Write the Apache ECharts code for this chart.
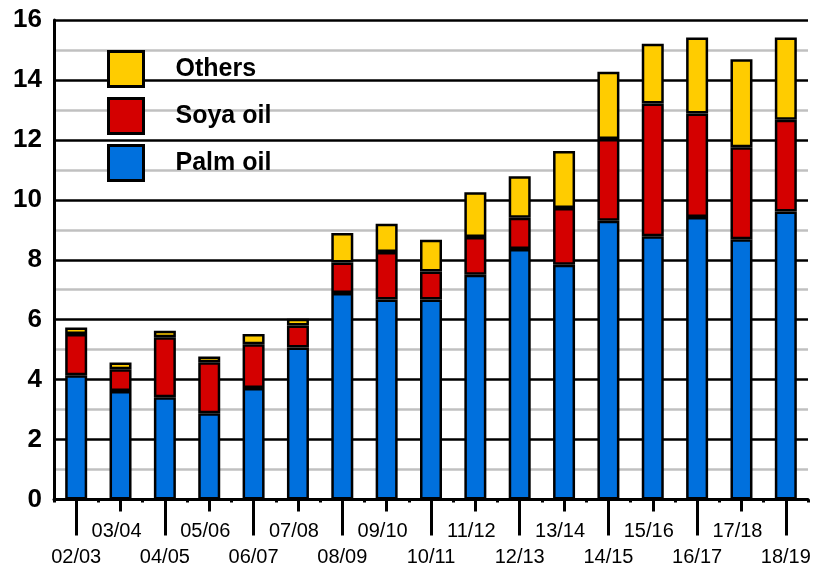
<!DOCTYPE html>
<html>
<head>
<meta charset="utf-8">
<script src="https://cdn.jsdelivr.net/npm/echarts@6/dist/echarts.min.js"></script>
<style>
  html, body { margin: 0; padding: 0; background: #fff; }
  #chart { width: 815px; height: 568px; }
</style>
</head>
<body>
<div id="chart"></div>
<script>
  const seasons = ['02/03', '03/04', '04/05', '05/06', '06/07', '07/08', '08/09', '09/10', '10/11',
    '11/12', '12/13', '13/14', '14/15', '15/16', '16/17', '17/18', '18/19'];
  const palmOil = [4.15, 3.62, 3.41, 2.88, 3.72, 5.07, 6.89, 6.67, 6.67, 7.5, 8.36, 7.83, 9.3, 8.78, 9.43, 8.68, 9.61];
  const soyaOil = [1.37, 0.73, 2.0, 1.7, 1.46, 0.74, 1.02, 1.59, 0.94, 1.26, 1.04, 1.9, 2.73, 4.43, 3.45, 3.07, 3.06];
  const others = [0.22, 0.22, 0.22, 0.19, 0.34, 0.22, 0.98, 0.94, 1.06, 1.49, 1.39, 1.9, 2.24, 2.0, 2.54, 2.94, 2.75];
  const yTicks = [0, 2, 4, 6, 8, 10, 12, 14, 16];

  const chart = echarts.init(document.getElementById('chart'));
  const font = 'Liberation Sans, Arial, sans-serif';

  function barSeries(name, data, color) {
    return {
      name: name,
      type: 'bar',
      stack: 'total',
      barWidth: 22,
      xAxisIndex: 0,
      itemStyle: { color: color, borderColor: '#000', borderWidth: 2.5 },
      data: data
    };
  }

  // extra x axes only draw the long / short ticks under the labels
  function tickAxis(len, even) {
    return {
      type: 'category',
      data: seasons,
      position: 'bottom',
      offset: 0,
      axisLine: { show: false },
      axisLabel: { show: false },
      splitLine: { show: false },
      axisTick: {
        show: true,
        alignWithLabel: true,
        length: len,
        interval: (i) => (i % 2 === 0) === even,
        lineStyle: { color: '#000', width: 3 }
      }
    };
  }

  const options = {
    animation: false,
    grid: { left: 54, right: 7, top: 20, bottom: 68.5, outerBoundsMode: 'none' },
    legend: {
      data: ['Others', 'Soya oil', 'Palm oil'],
      orient: 'vertical',
      left: 107,
      top: 50,
      padding: 0,
      itemWidth: 35,
      itemHeight: 35,
      itemGap: 9,
      icon: 'rect',
      itemStyle: { borderColor: '#000', borderWidth: 3 },
      textStyle: { fontFamily: font, fontSize: 25, fontWeight: 'bold', color: '#000', padding: [0, 0, 0, 27] }
    },
    xAxis: [
      {
        type: 'category',
        data: seasons,
        position: 'bottom',
        offset: 0,
        axisLine: { show: true, lineStyle: { color: '#000', width: 3 } },
        axisTick: { show: true, length: 3, lineStyle: { color: '#000', width: 3 } },
        axisLabel: {
          interval: 0,
          margin: 19,
          color: '#000',
          fontFamily: font,
          fontSize: 20,
          lineHeight: 26,
          formatter: (v, i) => (i % 2 === 0 ? '\n' + v : '{u|' + v + '}'),
          rich: { u: { fontFamily: font, fontSize: 20, lineHeight: 26, color: '#000', padding: [0, 8, 0, 0] } }
        }
      },
      tickAxis(36, true),
      tickAxis(12, false)
    ],
    yAxis: {
      type: 'value',
      min: 0,
      max: 16,
      interval: 1,
      axisLine: { show: true, lineStyle: { color: '#000', width: 3 } },
      axisTick: { show: false },
      axisLabel: {
        margin: 12,
        color: '#000',
        fontFamily: font,
        fontSize: 26,
        fontWeight: 'bold',
        formatter: (v) => (yTicks.indexOf(v) >= 0 ? String(v) : '')
      },
      splitLine: { show: true, lineStyle: { color: ['#000', '#c0c0c0'], width: 2.5 } }
    },
    series: [
      barSeries('Palm oil', palmOil, '#0070dd'),
      barSeries('Soya oil', soyaOil, '#d40000'),
      barSeries('Others', others, '#ffcc00')
    ]
  };
  chart.setOption(options);
</script>
</body>
</html>
